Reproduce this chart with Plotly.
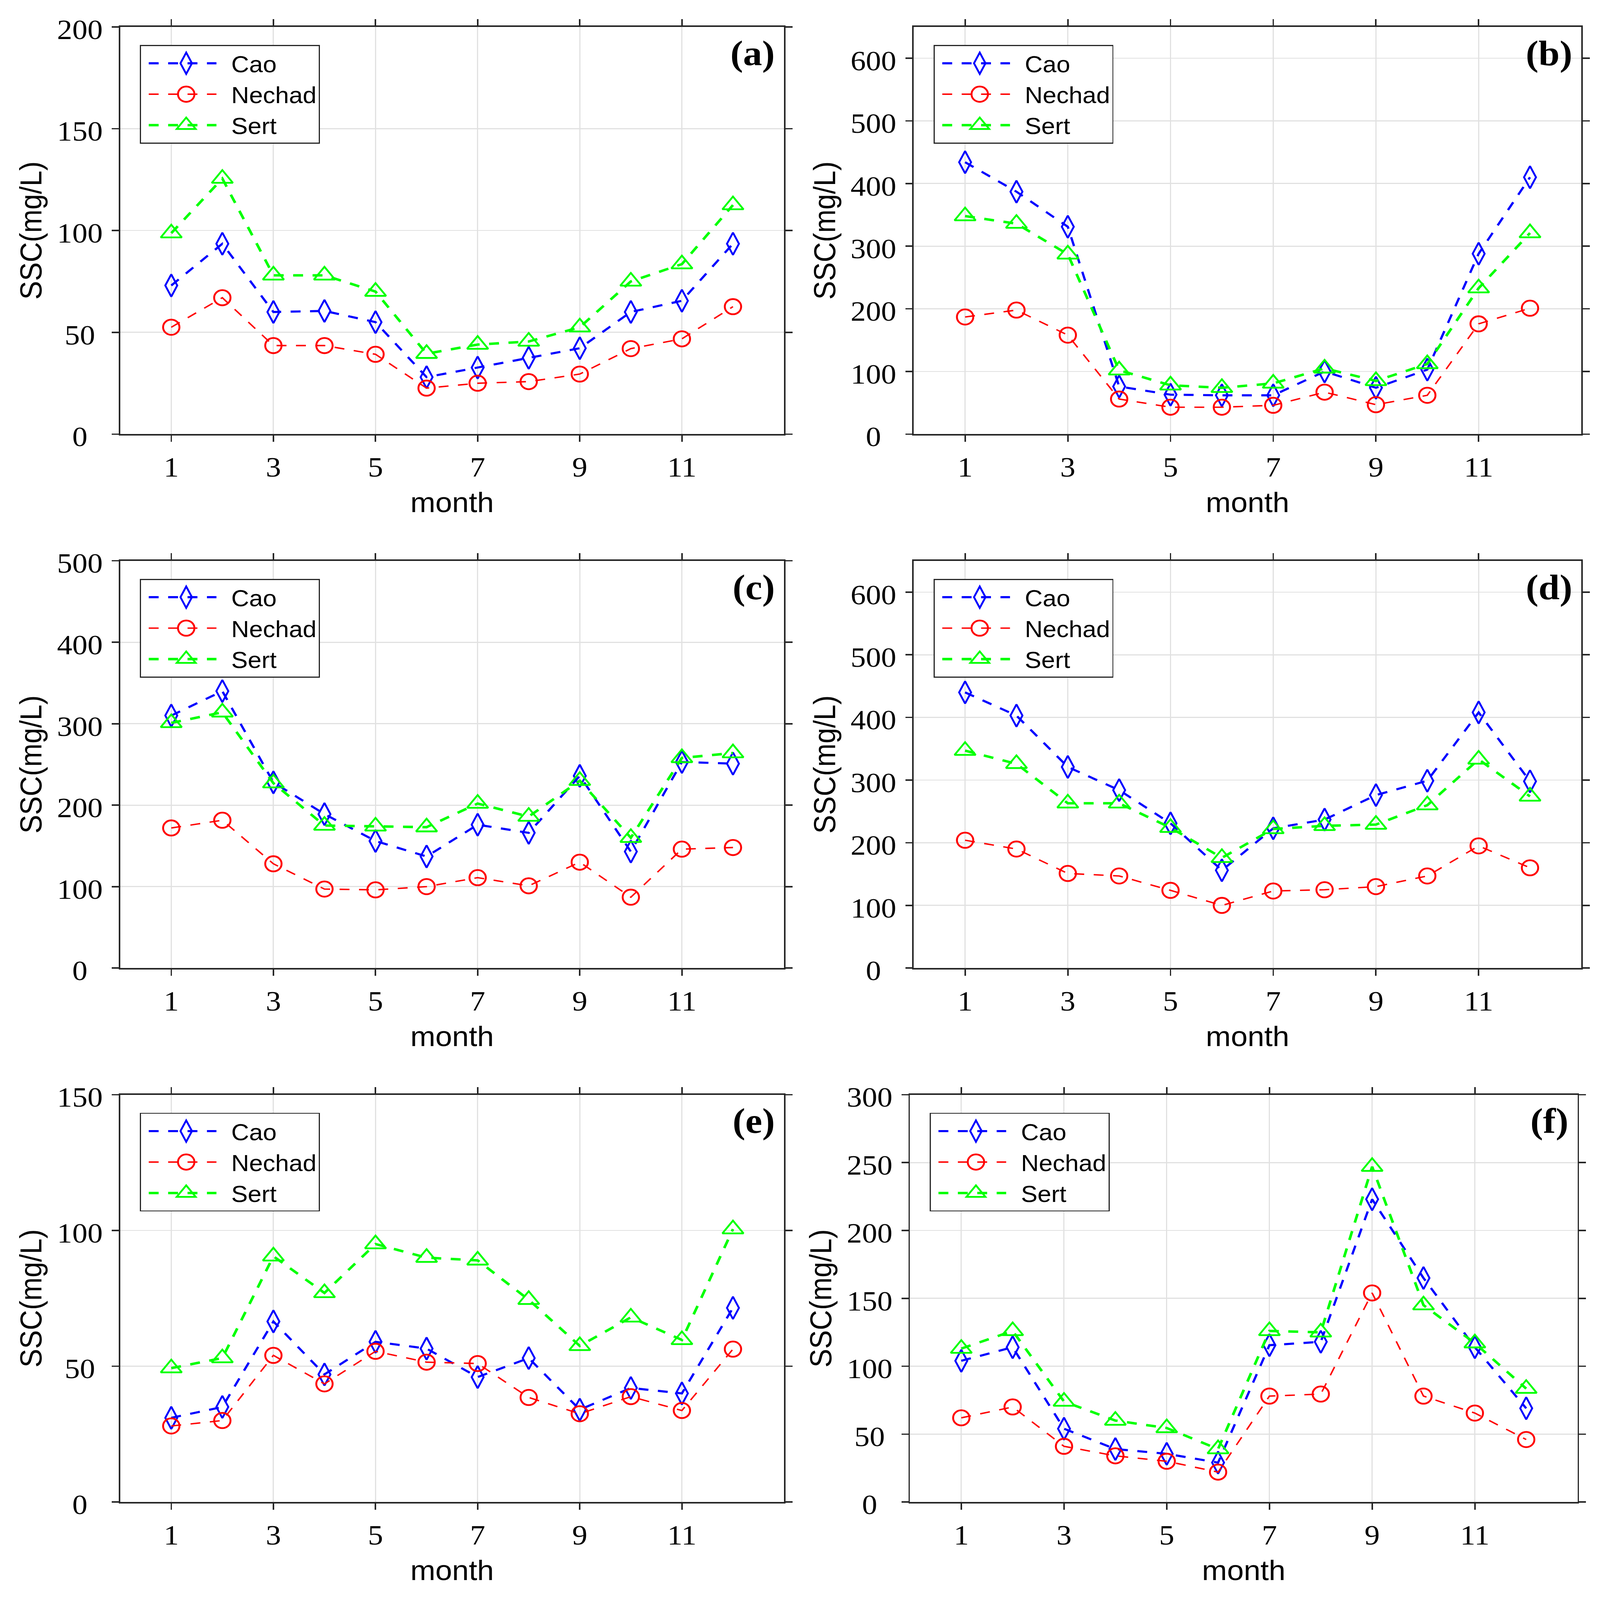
import plotly.graph_objects as go

# ---------------- data ----------------
months = list(range(1, 13))
month_ticks = [1, 3, 5, 7, 9, 11]
panel_labels = ["(a)", "(b)", "(c)", "(d)", "(e)", "(f)"]
series_names = ["Cao", "Nechad", "Sert"]

cao_a = [73, 93.5, 60, 60.5, 55, 28, 32.7, 37.5, 42.2, 60, 65.5, 93.5]
nechad_a = [52.5, 67, 43.5, 43.5, 39.2, 22.6, 25, 25.8, 29.5, 42, 46.8, 62.6]
sert_a = [98.7, 125.5, 78, 78, 70, 39.5, 44, 45.5, 52.5, 75, 83.5, 112.5]

cao_b = [434, 387, 331, 76, 63, 62, 62, 100, 74, 103, 288, 410]
nechad_b = [187, 198, 158, 56, 43, 43, 46, 67, 47, 62, 176, 201]
sert_b = [348, 336, 287, 102, 78, 74, 81, 105, 85, 112, 233, 321]

cao_c = [310, 340, 228, 189, 156, 137, 176, 166, 236, 143, 253, 251]
nechad_c = [172, 181.5, 128, 97, 96, 100, 111, 101, 130, 87, 146, 148]
sert_c = [301, 314, 227, 175, 174, 173, 202, 186, 230, 160, 258, 264]

cao_d = [440, 403, 321, 284, 231, 156, 223, 237, 276, 299, 408, 298]
nechad_d = [204, 190, 151, 147, 124, 100, 123, 125, 130, 147, 195, 160]
sert_d = [347, 326, 263, 263, 224, 176, 222, 227, 229, 260, 333, 274]

cao_e = [31, 35, 66.5, 47, 59, 56.5, 46, 53, 34, 42, 40, 71.5]
nechad_e = [28, 30, 54, 43.5, 55.5, 51.5, 51, 38.5, 32.5, 38.8, 33.7, 56.3]
sert_e = [49.3, 53, 90.5, 77, 95, 90, 89, 74.5, 57.5, 68, 59.7, 100.5]

cao_f = [104, 114, 54, 39, 35.5, 29, 115.5, 118, 223, 165, 114, 69]
nechad_f = [62, 70, 41, 34, 30, 22, 78, 79.5, 154, 78, 65.5, 46]
sert_f = [113, 126, 74, 60, 54.5, 39, 126, 125, 247, 145, 117, 83.5]

yticks_a = [0, 50, 100, 150, 200]
yticks_b = [0, 100, 200, 300, 400, 500, 600]
yticks_c = [0, 100, 200, 300, 400, 500]
yticks_d = [0, 100, 200, 300, 400, 500, 600]
yticks_e = [0, 50, 100, 150]
yticks_f = [0, 50, 100, 150, 200, 250, 300]

ymax_a, ymax_b, ymax_c, ymax_d, ymax_e, ymax_f = 200, 650, 500, 650, 150, 300

panels = [
    (cao_a, nechad_a, sert_a, yticks_a, ymax_a),
    (cao_b, nechad_b, sert_b, yticks_b, ymax_b),
    (cao_c, nechad_c, sert_c, yticks_c, ymax_c),
    (cao_d, nechad_d, sert_d, yticks_d, ymax_d),
    (cao_e, nechad_e, sert_e, yticks_e, ymax_e),
    (cao_f, nechad_f, sert_f, yticks_f, ymax_f),
]

# ---------------- layout geometry (pixels of 4206 x 4522 canvas) ----------------
W, H = 4206, 4522
col_px = [(316, 2061), (2402, 4157), (316, 2061), (2402, 4157), (316, 2061), (2392, 4147)]
row_px = [(76, 1227), (76, 1227), (1585, 2736), (1585, 2736), (3094, 4245), (3094, 4245)]
legend_top_px = [127, 127, 1636, 1636, 3145, 3145]

styles = {
    "Cao": dict(color="#0000FF", width=6, symbol="diamond-tall-open", size=45),
    "Nechad": dict(color="#FF0000", width=4, symbol="circle-open", size=43),
    "Sert": dict(color="#00FF00", width=7, symbol="triangle-up-open", size=48),
}

AX = "#262626"
TICKFONT = dict(family="Liberation Serif", size=80, color="black")
TITLEFONT = dict(family="Liberation Sans", size=79, color="black")

fig = go.Figure()
layout = dict(
    width=W, height=H,
    margin=dict(l=0, r=0, t=0, b=0, autoexpand=False),
    paper_bgcolor="white", plot_bgcolor="white",
    showlegend=True,
    annotations=[],
)

for i, (cao, nechad, sert, yt, ymax) in enumerate(panels):
    n = i + 1
    sfx = "" if n == 1 else str(n)
    xa, ya = "x" + sfx, "y" + sfx
    lg = "legend" + sfx
    for name, vals in zip(series_names, [cao, nechad, sert]):
        st = styles[name]
        fig.add_trace(go.Scatter(
            x=months, y=vals, name=name, mode="lines+markers",
            xaxis=xa, yaxis=ya, legend=lg,
            line=dict(color=st["color"], width=st["width"], dash="26px,25px"),
            marker=dict(symbol=st["symbol"], size=st["size"], color=st["color"],
                        line=dict(color=st["color"], width=5)),
        ))
    maxlen = max(len(str(v)) for v in yt)
    ytext = [str(v) + "\u00a0" * (maxlen - len(str(v))) for v in yt]
    x0, x1 = col_px[i]
    y0, y1 = row_px[i]
    layout["xaxis" + sfx] = dict(
        domain=[x0 / W, x1 / W], anchor=ya, range=[0, 13],
        tickmode="array", tickvals=month_ticks, ticktext=[str(m) for m in month_ticks],
        ticks="outside", ticklen=18, tickwidth=4, tickcolor=AX,
        showline=True, linecolor=AX, linewidth=4, mirror="ticks",
        showgrid=True, gridcolor="#e1e1e1", gridwidth=3, zeroline=False,
        tickfont=TICKFONT, ticklabelstandoff=2,
        title=dict(text="month", font=TITLEFONT, standoff=30),
    )
    layout["yaxis" + sfx] = dict(
        domain=[1 - y1 / H, 1 - y0 / H], anchor=xa, range=[0, ymax],
        tickmode="array", tickvals=yt, ticktext=ytext,
        ticks="outside", ticklen=18, tickwidth=4, tickcolor=AX,
        showline=True, linecolor=AX, linewidth=4, mirror="ticks",
        showgrid=True, gridcolor="#e1e1e1", gridwidth=3, zeroline=False,
        tickfont=TICKFONT, ticklabelstandoff=8, ticklabelshift=6,
        title=dict(text="SSC(mg/L)", font=TITLEFONT, standoff=15),
    )
    layout[lg] = dict(
        x=(x0 + 52) / W, y=1 - legend_top_px[i] / H, xanchor="left", yanchor="top",
        bgcolor="white", bordercolor=AX, borderwidth=3,
        font=dict(family="Liberation Sans", size=65, color="black"),
        itemwidth=227, tracegroupgap=0,
    )
    layout["annotations"].append(dict(
        text=panel_labels[i], xref=xa + " domain", yref=ya + " domain",
        x=0.9874, y=0.9357, xanchor="right", yanchor="middle", showarrow=False,
        font=dict(family="Liberation Serif", size=100, color="black", weight="bold"),
    ))

fig.update_layout(**layout)

# fit the fixed-size page to the window; enlarge the legend symbols (plotly caps them)
fit_js = """
(function(){
  document.documentElement.style.margin = '0';
  document.body.style.margin = '0';
  document.documentElement.style.overflow = 'hidden';
  document.body.style.overflow = 'hidden';
  document.body.style.background = 'white';
  var gd = document.getElementById('{plot_id}');
  var sx = window.innerWidth / %d, sy = window.innerHeight / %d;
  gd.style.transformOrigin = '0 0';
  gd.style.transform = 'scale(' + sx + ',' + sy + ')';
  gd.querySelectorAll('.legendpoints path').forEach(function(p){
    var t = p.getAttribute('transform') || '';
    p.setAttribute('transform', t + ' scale(2.7)');
    p.style.vectorEffect = 'non-scaling-stroke';
  });
  gd.querySelectorAll('.legendlines path').forEach(function(p){
    p.setAttribute('d', 'M20,0h178');
  });
})();
""" % (W, H)

fig.write_html("out.html", post_script=fit_js, config={"displayModeBar": False})
